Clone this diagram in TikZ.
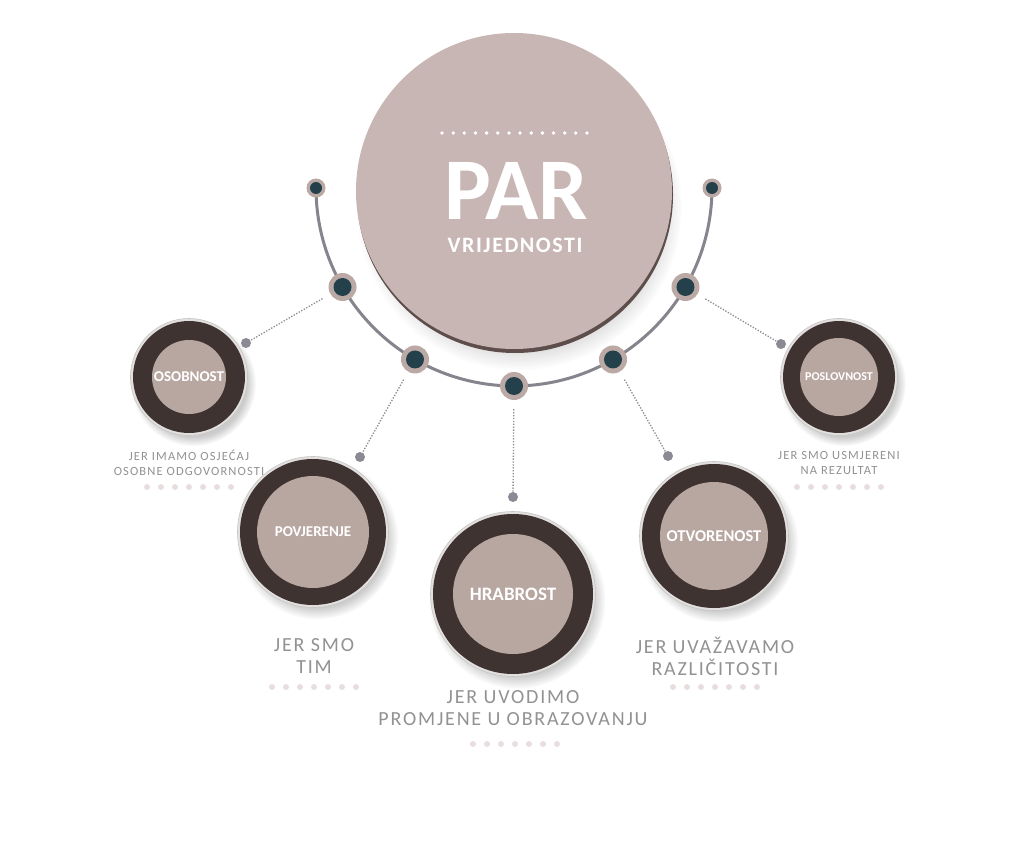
\documentclass[tikz,border=0pt]{standalone}
\usepackage{fontspec}
\setmainfont{Carlito}
\newfontfamily\lblfont[LetterSpace=9]{Carlito}
\newfontfamily\vfont[LetterSpace=7]{Carlito}
\usetikzlibrary{shadows}
\definecolor{mainfill}{HTML}{C8B6B4}
\definecolor{mainrim}{HTML}{5E4E4B}
\definecolor{ringdark}{HTML}{3E3331}
\definecolor{innerfill}{HTML}{B8A6A1}
\definecolor{rimlight}{HTML}{E2DFDF}
\definecolor{rimgray}{HTML}{C9C5C5}
\definecolor{dotouter}{HTML}{BBA9A5}
\definecolor{dotinner}{HTML}{24414B}
\definecolor{arcgray}{HTML}{86848C}
\definecolor{conngray}{HTML}{8A8A94}
\definecolor{lblgray}{HTML}{929292}
\definecolor{rowdot}{HTML}{E8DEDE}
\tikzset{
  bigdot/.style={circle, inner sep=0pt, minimum size=28pt, fill=dotouter},
  enddot/.style={circle, inner sep=0pt, minimum size=19pt, fill=dotouter},
  graydot/.style={circle, inner sep=0pt, minimum size=10pt, fill=conngray},
  conn/.style={draw=conngray, line width=1.3pt, dash pattern=on 1.3pt off 1.6pt, shorten <=9pt},
  arcline/.style={draw=arcgray, line width=3pt},
  biglbl/.style={align=center, text=lblgray, font=\lblfont\fontsize{20}{22}\selectfont},
  smalllbl/.style={align=center, text=lblgray, font=\lblfont\fontsize{12.5}{15}\selectfont},
}
\newcommand\valcircle[7]{%
  \node[circle, inner sep=0pt, minimum size={(2*#4+5)*1pt}, fill=rimlight, draw=rimgray, line width=0.6pt,
        circular drop shadow={shadow xshift=4pt, shadow yshift=-6pt, opacity=0.4, shadow scale=1.07}] (#1rim) at (#2,#3) {};
  \node[circle, inner sep=0pt, minimum size={(2*#4)*1pt}, fill=ringdark] (#1) at (#2,#3) {};
  \node[circle, inner sep=0pt, minimum size={(2*#5)*1pt}, fill=innerfill, text=white,
        font=\bfseries\fontsize{#6}{#6}\selectfont] (#1in) at (#2,#3) {#7};
}
\newcommand\dotrow[2]{%
  \foreach \i in {-3,...,3} \fill[rowdot] ({#1+\i*14},#2) circle[radius=3pt];
}
\begin{document}
\begin{tikzpicture}[x=1pt,y=-1pt]
\useasboundingbox[fill=white] (0,0) rectangle (1030,850);

% arc
\draw[arcline] plot[domain=180:360, samples=120] ({514+198*cos(\x)},{188-198*sin(\x)});

% main circle
\node[circle, inner sep=0pt, minimum size=316pt, fill=mainrim,
      circular drop shadow={shadow xshift=4pt, shadow yshift=-12pt, opacity=0.3, shadow scale=1.03}] (parrim) at (515,195) {};
\node[circle, inner sep=0pt, minimum size=316pt, fill=mainfill] (par) at (514,191) {};
\foreach \i in {0,...,13} \fill[white] ({442+\i*11.15},133) circle[radius=1.9pt];
\node[inner sep=0pt, text=white, font=\bfseries\fontsize{88}{88}\selectfont] (partxt) at (516,191) {PAR};
\node[inner sep=0pt, text=white, font=\vfont\bfseries\fontsize{22}{22}\selectfont] (vtxt) at (515,245) {VRIJEDNOSTI};

% dots on arc
\foreach \a/\n in {210/a1,240/a2,270/a3,300/a4,330/a5} {
  \node[bigdot] (\n) at ({514+198*cos(\a)},{188-198*sin(\a)}) {};
  \fill[dotinner] (\n) circle[radius=9pt];
}
\foreach \a/\n in {180/e1,360/e2} {
  \node[enddot] (\n) at ({514+198*cos(\a)},{188-198*sin(\a)}) {};
  \fill[dotinner] (\n) circle[radius=6pt];
}

% gray end points
\node[graydot] (g1) at (246,343) {};
\node[graydot] (g2) at (360,457) {};
\node[graydot] (g3) at (513,497) {};
\node[graydot] (g4) at (668,456) {};
\node[graydot] (g5) at (781,344) {};
\draw[conn] (a1) -- (g1);
\draw[conn] (a2) -- (g2);
\draw[conn] (a3) -- (g3);
\draw[conn] (a4) -- (g4);
\draw[conn] (a5) -- (g5);

% value circles
\valcircle{osob}{189}{377}{56}{37}{15}{OSOBNOST}
\valcircle{posl}{839}{377}{56}{39}{12}{POSLOVNOST}
\valcircle{povj}{313}{532}{73}{56}{15}{POVJERENJE}
\valcircle{otvo}{714}{536}{72}{54}{16.5}{OTVORENOST}
\valcircle{hrab}{513}{594}{80}{60}{19}{HRABROST}

% labels
\node[smalllbl] (osoblbl) at (189,463) {JER IMAMO OSJEĆAJ\\OSOBNE ODGOVORNOSTI};
\node[smalllbl] (posllbl) at (839,463) {JER SMO USMJERENI\\NA REZULTAT};
\node[biglbl] (povjlbl) at (314,656) {JER SMO\\TIM};
\node[biglbl] (otvolbl) at (715,656) {JER UVAŽAVAMO\\RAZLIČITOSTI};
\node[biglbl] (hrablbl) at (513,708) {JER UVODIMO\\PROMJENE U OBRAZOVANJU};

\dotrow{189}{487}
\dotrow{839}{487}
\dotrow{314}{687}
\dotrow{715}{687}
\dotrow{515}{744}
\end{tikzpicture}
\end{document}
